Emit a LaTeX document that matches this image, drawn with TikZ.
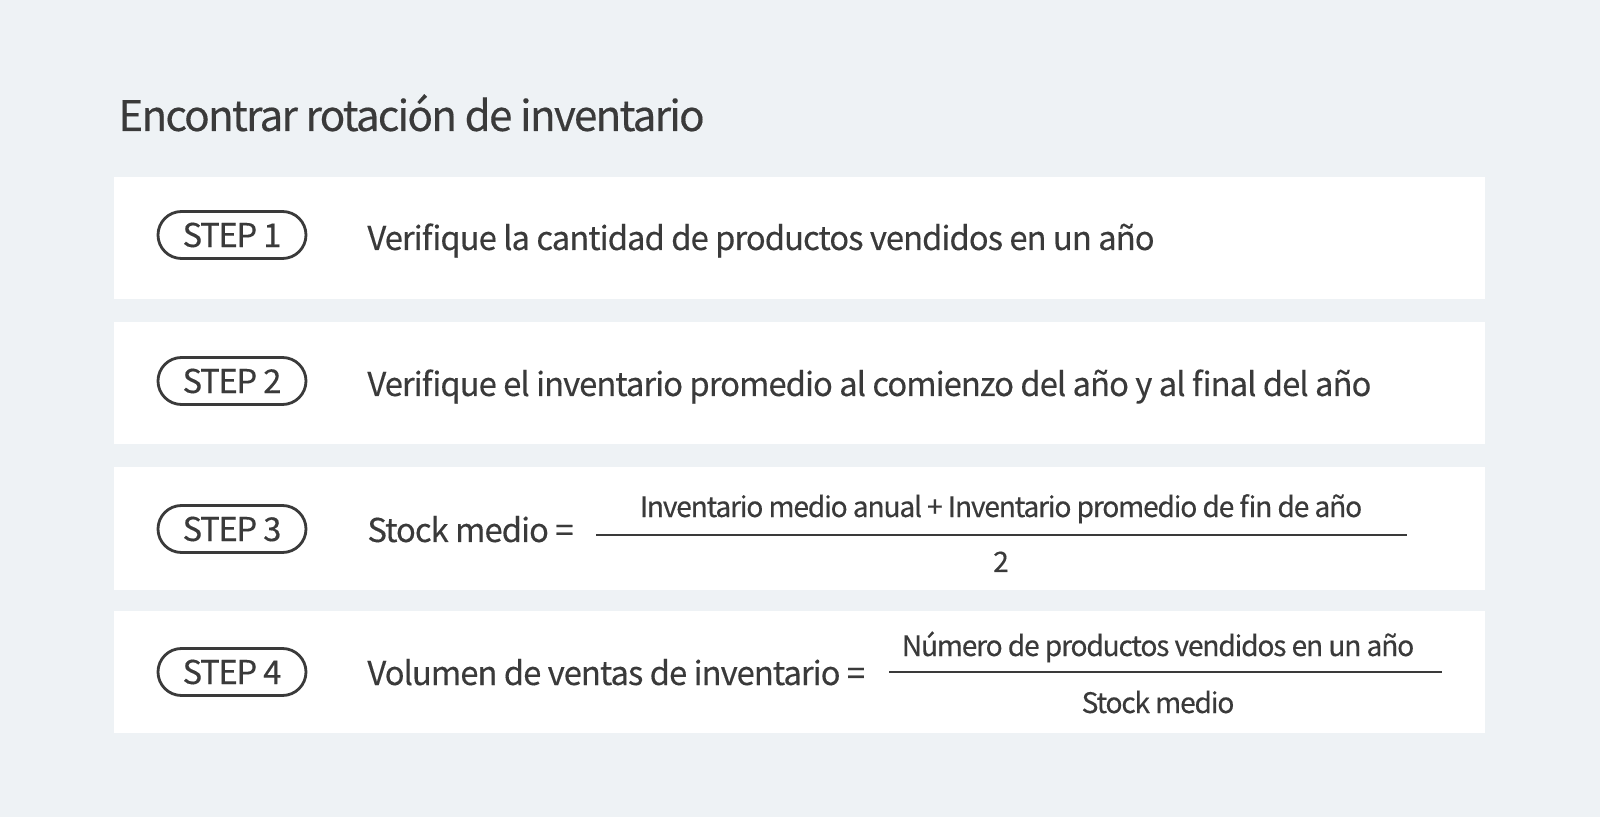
\documentclass[tikz,border=0pt]{standalone}
\usepackage{fontspec}
\setmainfont{Noto Sans CJK KR}
\usetikzlibrary{shapes.misc}
\definecolor{BackClr}{HTML}{EEF2F5}
\definecolor{TextClr}{HTML}{3A3A3A}

\begin{document}
\begin{tikzpicture}[x=0.5pt,y=-0.5pt,
  stepbox/.style={rounded rectangle,draw=TextClr,line width=1.4pt,
    minimum width=74pt,minimum height=23.5pt,inner sep=0pt,
    text=TextClr,font=\fontsize{16.4}{18}\selectfont\addfontfeatures{LetterSpace=-4,FakeBold=0.3}},
  body/.style={anchor=base west,inner sep=0pt,text=TextClr,
    font=\fontsize{16.4}{18}\selectfont\addfontfeatures{LetterSpace=-3,FakeBold=0.3}},
  frac/.style={anchor=base,inner sep=0pt,text=TextClr,
    font=\fontsize{14.1}{16}\selectfont\addfontfeatures{LetterSpace=-4.3,FakeBold=0.3}},
  fracline/.style={draw=TextClr,line width=1pt}]

\fill[BackClr] (0,0) rectangle (1600,817);
\useasboundingbox (0,0) rectangle (1600,817);

\node[anchor=base west,inner sep=0pt,text=TextClr,
  font=\fontsize{21.1}{24}\selectfont\addfontfeatures{LetterSpace=-4.2,FakeBold=0.3}] (title) at (118,131)
  {Encontrar rotación de inventario};

% panels
\fill[white] (114,177) rectangle (1485,299);
\fill[white] (114,322) rectangle (1485,444);
\fill[white] (114,467) rectangle (1485,590);
\fill[white] (114,611) rectangle (1485,733);

\node[stepbox] (s1) at (232,235) {STEP 1};
\node[stepbox] (s2) at (232,381) {STEP 2};
\node[stepbox] (s3) at (232,529) {STEP 3};
\node[stepbox] (s4) at (232,672) {STEP 4};

\node[body] (t1) at (367,250) {Verifique la cantidad de productos vendidos en un año};
\node[body] (t2) at (367,396) {Verifique el inventario promedio al comienzo del año y al final del año};
\node[body] (t3) at (367,542) {Stock medio =};
\node[body] (t4) at (367,685) {Volumen de ventas de inventario =};

% step 3 fraction
\coordinate (a3) at (596,535);
\coordinate (b3) at (1407,535);
\draw[fracline] (a3) -- (b3);
\node[frac] (n3) at (1001,517) {Inventario medio anual + Inventario promedio de fin de año};
\node[frac] (d3) at (1001,572) {2};

% step 4 fraction
\coordinate (a4) at (889,672);
\coordinate (b4) at (1442,672);
\draw[fracline] (a4) -- (b4);
\node[frac] (n4) at (1158,656) {Número de productos vendidos en un año};
\node[frac] (d4) at (1158,713) {Stock medio};
\end{tikzpicture}
\end{document}
